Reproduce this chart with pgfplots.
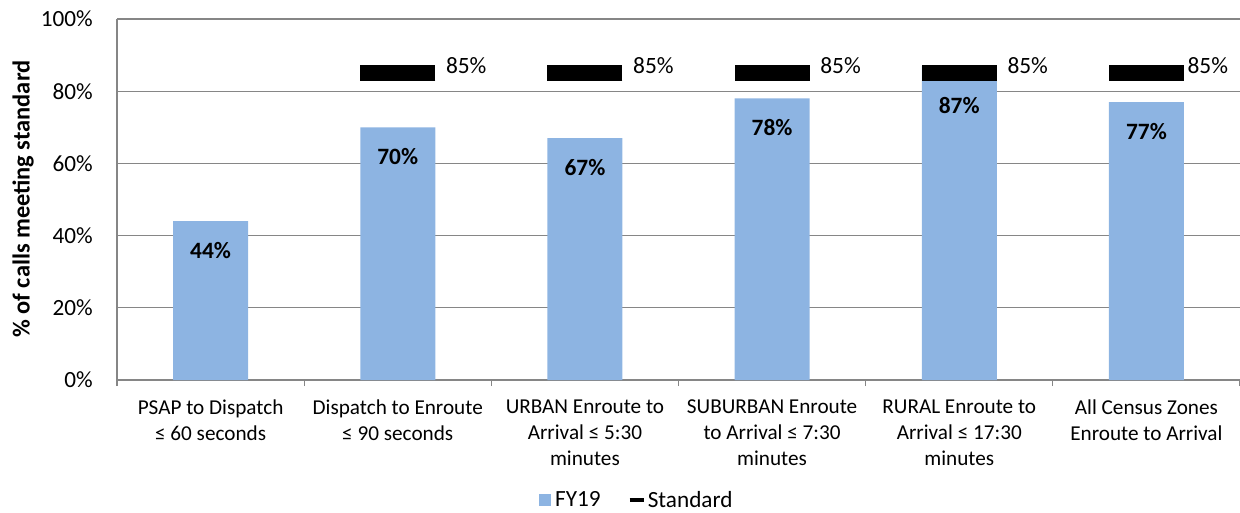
\documentclass[border=0pt]{standalone}
\usepackage{fontspec}
\setmainfont{Carlito}
\usepackage{pgfplots}
\usepackage{pgfplotstable}
\pgfplotsset{compat=1.18}
\definecolor{barblue}{RGB}{141,180,226}
\definecolor{gridgray}{RGB}{134,134,134}
\newcommand{\fcat}{\fontsize{21.2bp}{26bp}\selectfont}
\newcommand{\ftick}{\fontsize{23.2bp}{27bp}\selectfont}
\newcommand{\flab}{\fontsize{23.4bp}{27bp}\selectfont}

\pgfplotstableread{
x y dy
1 44 -21
2 70 -21
3 67 -21
4 78 -21
5 87 -31
6 77 -21
}\fyData

\pgfplotstableread{
x y
2 85
3 85
4 85
5 85
}\stdA

\pgfplotstableread{
x y
6 85
}\stdB

\begin{document}
\begin{tikzpicture}
\begin{axis}[
  scale only axis, width=1123bp, height=361bp,
  xmin=0.5, xmax=6.5, ymin=0, ymax=100,
  axis lines*=left,
  axis line style={gridgray, line width=1.3bp},
  ymajorgrids, grid style={gridgray, line width=1.3bp},
  major tick length=0pt,
  ytick={0,20,40,60,80,100},
  yticklabels={0\%,20\%,40\%,60\%,80\%,100\%},
  yticklabel style={font=\ftick, inner sep=0pt, xshift=-24bp},
  xtick={1,2,3,4,5,6},
  xticklabels={{PSAP to Dispatch\\≤ 60 seconds},
               {Dispatch to Enroute\\≤ 90 seconds},
               {URBAN Enroute to\\Arrival ≤ 5:30\\minutes},
               {SUBURBAN Enroute\\to Arrival ≤ 7:30\\minutes},
               {RURAL Enroute to\\Arrival ≤ 17:30\\minutes},
               {All Census Zones\\Enroute to Arrival}},
  xticklabel style={font=\fcat, align=center, inner sep=0pt, yshift=-20bp},
  extra x ticks={0.5,1.5,2.5,3.5,4.5,5.5,6.5},
  extra x tick labels={},
  extra x tick style={major tick length=6bp, tick align=outside, grid=none,
                      tick style={gridgray, line width=1.3bp}},
  ylabel={\% of calls meeting standard},
  ylabel style={font=\bfseries\fontsize{24.4bp}{28bp}\selectfont,
                at={(axis description cs:-0.0837,0.501)}, anchor=center},
  legend style={at={(axis description cs:0.462,-0.332)}, anchor=center, draw=none,
                font=\ftick, legend columns=2, /tikz/column sep=0pt,
                nodes={inner sep=0pt},
                /tikz/every even column/.append style={column sep=27bp}},
  legend cell align=left,
]
\addplot[ybar, bar width=75bp, fill=barblue, draw=none,
  point meta=y,
  visualization depends on={\thisrow{dy} \as \dy},
  nodes near coords={\pgfmathprintnumber[assume math mode=true]{\pgfplotspointmeta}\%},
  every node near coord/.append style={anchor=north, yshift=\dy bp,
      font=\bfseries\flab, inner sep=0pt},
  legend image code/.code={\fill[barblue] (0bp,-6bp) rectangle (12bp,6bp);
                           \path (16bp,0bp);}
] table[x=x, y=y] {\fyData};
\addlegendentry{FY19}

\addplot[only marks, mark=-, mark size=37.5bp,
  mark options={line width=15.5bp, black},
  nodes near coords={85\%},
  every node near coord/.append style={anchor=west, xshift=40.5bp, yshift=7.8bp,
      font=\flab, inner sep=0pt},
  legend image code/.code={\draw[black, line width=4bp] (0bp,0bp) -- (14bp,0bp);
                           \path (18bp,0bp);}
] table[x=x, y=y] {\stdA};
\addlegendentry{Standard}

\addplot[only marks, mark=-, mark size=37.5bp,
  mark options={line width=15.5bp, black},
  nodes near coords={85\%},
  every node near coord/.append style={anchor=west, xshift=33.4bp, yshift=7.8bp,
      font=\flab, inner sep=0pt},
  forget plot
] table[x=x, y=y] {\stdB};

\coordinate (ll) at (rel axis cs:0,0);
\coordinate (ur) at (rel axis cs:1,1);
\end{axis}
\pgfresetboundingbox
\path ([xshift=-117bp,yshift=-132bp]ll) rectangle ([yshift=19bp]ur);
\end{tikzpicture}
\end{document}
